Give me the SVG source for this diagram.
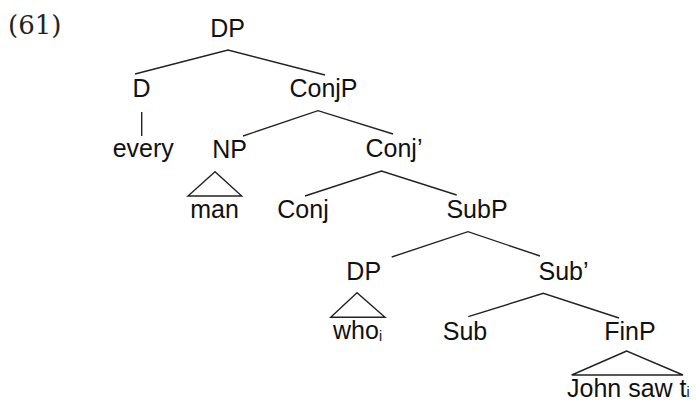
<svg xmlns="http://www.w3.org/2000/svg" width="697" height="401" viewBox="0 0 697 401">
<style>
.n{font-family:"Liberation Sans",Arial,sans-serif;font-size:25px;fill:#111;text-anchor:middle}
.s{text-anchor:start}
.e{fill:none;stroke:#222;stroke-width:1.4;stroke-linejoin:miter}
.ex{font-family:"DejaVu Serif","Liberation Serif",serif;font-size:26px;fill:#222}
</style>
<rect width="697" height="401" fill="#fff"/>
<text class="ex" x="8" y="34">(61)</text>
<g id="connectors">
<polyline class="e" points="135,74 228,50 325,75"/>
<line class="e" x1="141.7" y1="112" x2="141.7" y2="136"/>
<polyline class="e" points="243,136 318,110.7 393,134"/>
<polygon class="e" points="215,171.7 188,196 241.7,196"/>
<polyline class="e" points="305,196 381.5,171 456.7,195"/>
<polyline class="e" points="391.7,257 468,231.7 540,256"/>
<polygon class="e" points="357,292.7 330.7,317.3 385,317.3"/>
<polyline class="e" points="468.3,316.7 543.3,293.3 619,318"/>
<polygon class="e" points="626.7,351 571.7,375 683,375"/>
</g>
<g id="n-dp"><text class="n" x="227.5" y="37">DP</text></g>
<g id="n-d"><text class="n" x="141.5" y="97">D</text></g>
<g id="n-conjp"><text class="n" x="323.5" y="97">ConjP</text></g>
<g id="n-every"><text class="n" x="143.3" y="157">every</text></g>
<g id="n-np"><text class="n" x="229.5" y="158">NP</text></g>
<g id="n-conjbar"><text class="n" x="394" y="157">Conj’</text></g>
<g id="n-man"><text class="n" x="214.5" y="218">man</text></g>
<g id="n-conj"><text class="n" x="303" y="218">Conj</text></g>
<g id="n-subp"><text class="n" x="477" y="218">SubP</text></g>
<g id="n-dp2"><text class="n" x="363.7" y="280">DP</text></g>
<g id="n-subbar"><text class="n" x="563.5" y="280">Sub’</text></g>
<g id="n-who"><text class="n s" x="333" y="339">who<tspan font-size="14" dy="2">i</tspan></text></g>
<g id="n-sub"><text class="n" x="465" y="340">Sub</text></g>
<g id="n-finp"><text class="n" x="630" y="340">FinP</text></g>
<g id="n-john"><text class="n s" x="567" y="397">John saw t<tspan font-size="14">i</tspan></text></g>
</svg>
